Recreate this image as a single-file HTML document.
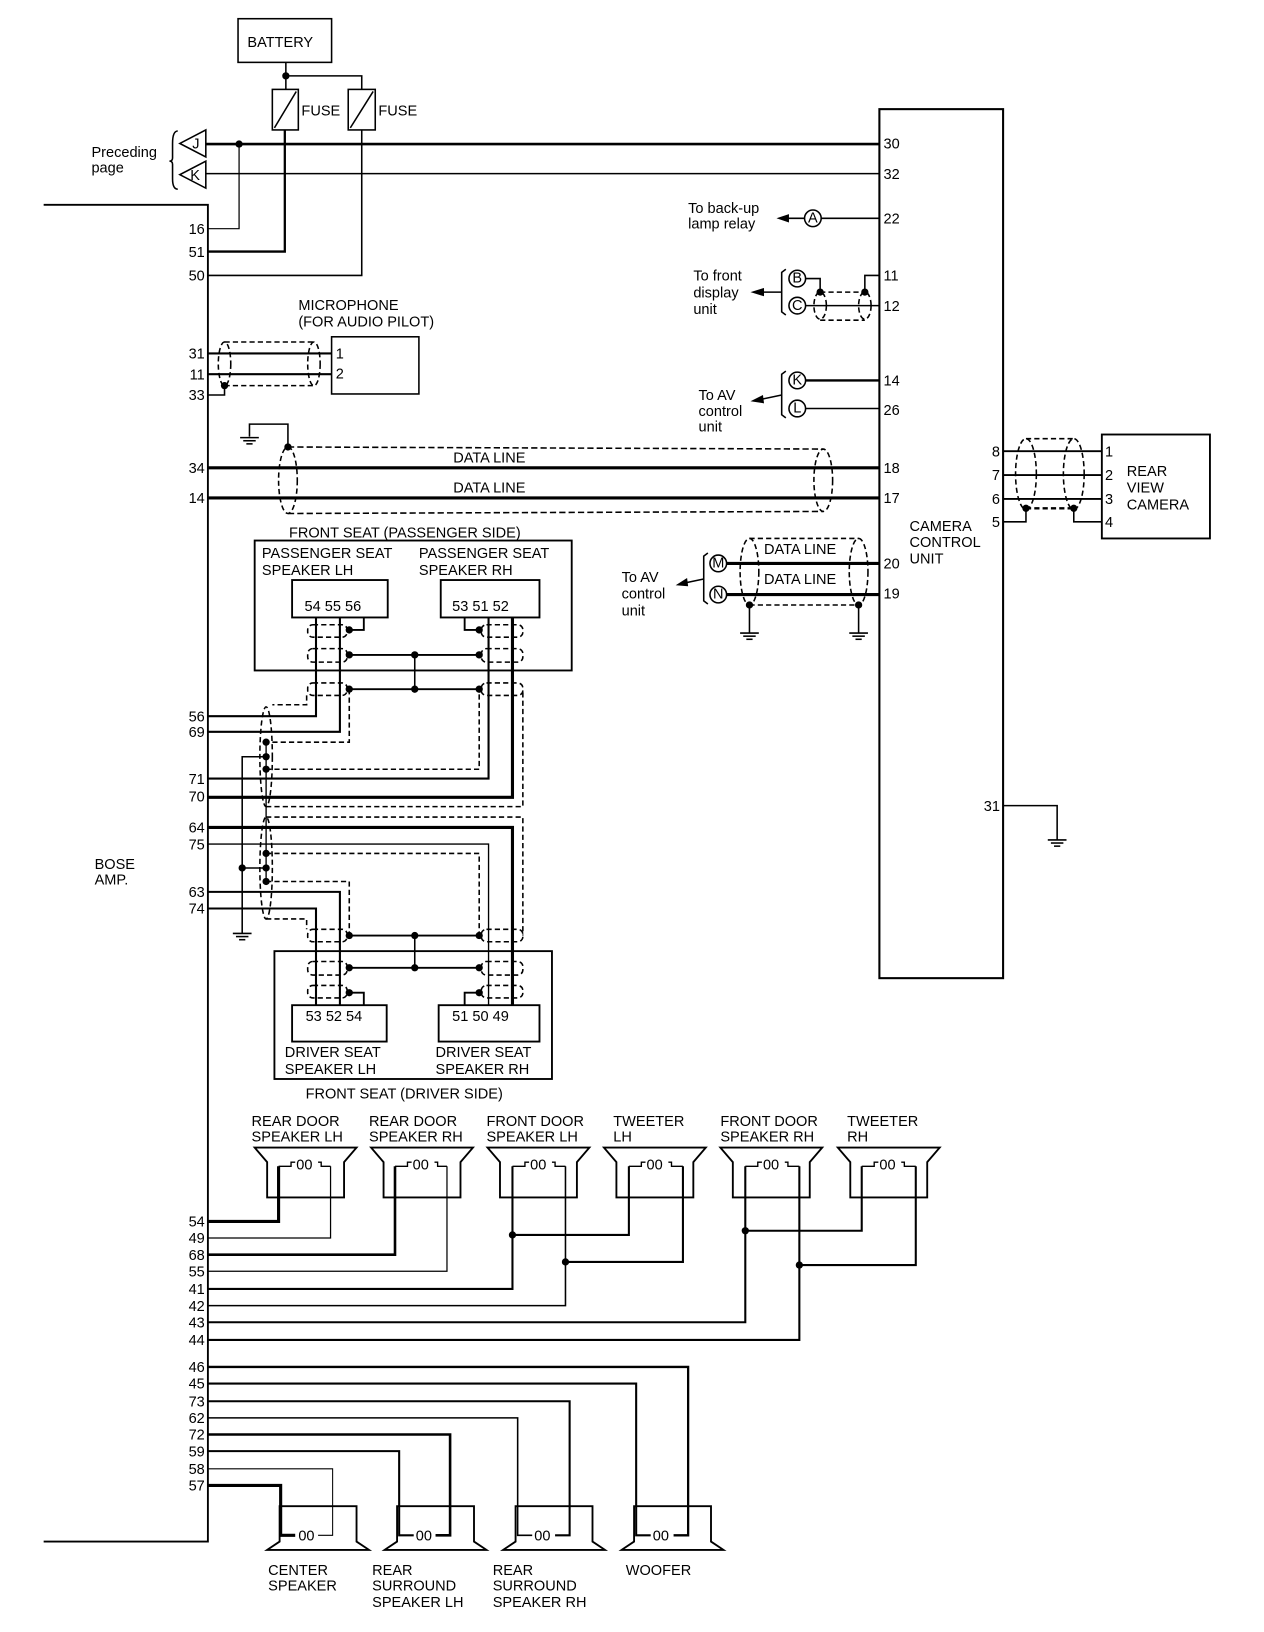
<!DOCTYPE html>
<html><head><meta charset="utf-8"><style>
html,body{margin:0;padding:0;background:#fff;}
svg{display:block;}
text{font-family:"Liberation Sans",sans-serif;font-size:14px;fill:#000;}
</style></head><body>
<svg width="1264" height="1632" viewBox="0 0 1216 1570" preserveAspectRatio="none" xmlns="http://www.w3.org/2000/svg">
<g fill="none" stroke="#000" stroke-width="1.5">
<rect x="229" y="18" width="90" height="42"/>
<line x1="275" y1="60" x2="275" y2="86"/>
<polyline points="275,73 348,73 348,86"/>
<rect x="262" y="86" width="25" height="39"/>
<line x1="264" y1="123" x2="285" y2="88"/>
<rect x="335" y="86" width="26" height="39"/>
<line x1="337" y1="123" x2="359" y2="88"/>
<polyline points="274,125 274,242 200,242" stroke-width="2.2"/>
<polyline points="348,125 348,265 200,265"/>
<line x1="198" y1="138.6" x2="846" y2="138.6" stroke-width="2.5"/>
<line x1="198" y1="167" x2="846" y2="167"/>
<polyline points="230,138.6 230,220 200,220" stroke-width="1.2"/>
<polygon points="198,125 198,151 173,138"/>
<polygon points="198,155 198,181 173,168"/>
<path d="M171,126 Q166,126 166,138 L166,152 Q166,155 163,155 Q166,155 166,158 L166,172 Q166,182 171,182"/>
<polyline points="42,197 200,197 200,1483 42,1483" stroke-width="1.8"/>
<rect x="846" y="105" width="119" height="836" stroke-width="2"/>
<circle cx="782" cy="210" r="8"/>
<line x1="790" y1="210" x2="846" y2="210"/>
<line x1="774" y1="210" x2="756" y2="210"/>
<circle cx="767" cy="268" r="8"/>
<circle cx="767" cy="294" r="8"/>
<polyline points="775,268 789,268 789,281"/>
<line x1="775" y1="294" x2="846" y2="294"/>
<polyline points="846,265 832,265 832,281"/>
<line x1="789" y1="281" x2="832" y2="281" stroke-dasharray="5,3"/>
<line x1="789" y1="308" x2="832" y2="308" stroke-dasharray="5,3"/>
<ellipse cx="789" cy="294" rx="6" ry="13" stroke-dasharray="5,3"/>
<ellipse cx="832" cy="294" rx="6" ry="13" stroke-dasharray="5,3"/>
<path d="M756,259 L752,262 L752,300 L756,303"/>
<line x1="752" y1="281" x2="734" y2="281"/>
<circle cx="767" cy="366" r="8"/>
<circle cx="767" cy="393" r="8"/>
<line x1="775" y1="366" x2="846" y2="366" stroke-width="2.2"/>
<line x1="775" y1="393" x2="846" y2="393"/>
<path d="M756,357 L752,360 L752,399 L756,402"/>
<line x1="752" y1="380" x2="733" y2="384"/>
<polyline points="277,430 277,408 240,408 240,420"/>
<line x1="231" y1="421" x2="249" y2="421"/><line x1="234" y1="424" x2="246" y2="424"/><line x1="237" y1="427" x2="243" y2="427"/>
<line x1="200" y1="450" x2="846" y2="450" stroke-width="3"/>
<line x1="200" y1="479" x2="846" y2="479" stroke-width="3"/>
<ellipse cx="277" cy="462" rx="9" ry="32" stroke-dasharray="5,3"/>
<ellipse cx="792" cy="462" rx="9" ry="30" stroke-dasharray="5,3"/>
<line x1="277" y1="430" x2="792" y2="432" stroke-dasharray="6,3"/>
<line x1="277" y1="494" x2="792" y2="492" stroke-dasharray="6,3"/>
<rect x="319" y="324" width="84" height="55"/>
<line x1="200" y1="340" x2="319" y2="340" stroke-width="2"/>
<line x1="200" y1="360" x2="319" y2="360" stroke-width="2"/>
<ellipse cx="216" cy="350" rx="6" ry="21" stroke-dasharray="5,3"/>
<ellipse cx="302" cy="350" rx="6" ry="21" stroke-dasharray="5,3"/>
<line x1="216" y1="329" x2="302" y2="329" stroke-dasharray="5,3"/>
<line x1="216" y1="371" x2="302" y2="371" stroke-dasharray="5,3"/>
<polyline points="200,380 216,380 216,371"/>
<rect x="1060" y="418" width="104" height="100" stroke-width="1.8"/>
<line x1="965" y1="434" x2="1060" y2="434" stroke-width="1.8"/>
<line x1="965" y1="457" x2="1060" y2="457" stroke-width="1.8"/>
<line x1="965" y1="480" x2="1060" y2="480" stroke-width="1.8"/>
<polyline points="965,502 987,502 987,489"/>
<polyline points="1060,502 1033,502 1033,489"/>
<ellipse cx="987" cy="456" rx="10" ry="34" stroke-dasharray="5,3"/>
<ellipse cx="1033" cy="456" rx="10" ry="34" stroke-dasharray="5,3"/>
<line x1="987" y1="422" x2="1033" y2="422" stroke-dasharray="5,3"/>
<line x1="987" y1="489" x2="1033" y2="489" stroke-dasharray="5,3" stroke-width="2.2"/>
<circle cx="691" cy="542" r="8"/>
<circle cx="691" cy="572" r="8"/>
<line x1="699" y1="542" x2="846" y2="542" stroke-width="3"/>
<line x1="699" y1="572" x2="846" y2="572" stroke-width="3"/>
<path d="M681,532 L677,535 L677,578 L681,581"/>
<line x1="677" y1="557" x2="658" y2="561"/>
<ellipse cx="721" cy="550" rx="9" ry="32" stroke-dasharray="5,3"/>
<ellipse cx="826" cy="550" rx="9" ry="32" stroke-dasharray="5,3"/>
<line x1="721" y1="518" x2="826" y2="518" stroke-dasharray="5,3"/>
<line x1="721" y1="582" x2="826" y2="582" stroke-dasharray="5,3"/>
<line x1="721" y1="582" x2="721" y2="609"/><line x1="826" y1="582" x2="826" y2="609"/>
<line x1="712" y1="609" x2="730" y2="609"/><line x1="715" y1="612" x2="727" y2="612"/><line x1="718" y1="615" x2="724" y2="615"/>
<line x1="817" y1="609" x2="835" y2="609"/><line x1="820" y1="612" x2="832" y2="612"/><line x1="823" y1="615" x2="829" y2="615"/>
<polyline points="965,775 1017,775 1017,808"/>
<line x1="1008" y1="808" x2="1026" y2="808"/><line x1="1011" y1="811" x2="1023" y2="811"/><line x1="1014" y1="814" x2="1020" y2="814"/>

<rect x="245" y="520" width="305" height="125" stroke-width="1.8"/>
<rect x="281" y="558" width="92" height="36" stroke-width="1.8"/>
<rect x="424" y="558" width="95" height="36" stroke-width="1.8"/>
<polyline points="304,594 304,689 200,689" stroke-width="2"/>
<polyline points="327,594 327,704 200,704" stroke-width="2"/>
<polyline points="350,594 350,606 336,606" stroke-width="1.8"/>
<polyline points="447,594 447,606 461,606" stroke-width="1.8"/>
<polyline points="470,594 470,749 200,749" stroke-width="2"/>
<polyline points="493,594 493,767 200,767" stroke-width="3"/>
<line x1="336" y1="630" x2="461" y2="630" stroke-width="1.8"/>
<line x1="336" y1="663" x2="461" y2="663" stroke-width="1.8"/>
<line x1="399" y1="630" x2="399" y2="663"/>
<g stroke-dasharray="5,3">
<rect x="296" y="601" width="38" height="12" rx="5"/>
<rect x="296" y="624" width="38" height="13" rx="5"/>
<rect x="296" y="657" width="38" height="12" rx="5"/>
<rect x="463" y="601" width="40" height="12" rx="5"/>
<rect x="463" y="624" width="40" height="13" rx="5"/>
<rect x="463" y="657" width="40" height="12" rx="5"/>
<polyline points="336,663 336,714 256,714"/>
<polyline points="295,669 295,678 262,678"/>
<ellipse cx="256" cy="728" rx="6" ry="48"/>
<polyline points="256,740 461,740 461,663"/>
<polyline points="256,776 503,776 503,663"/>
<polyline points="256,786 503,786 503,900"/>
<ellipse cx="256" cy="835" rx="6" ry="49"/>
<polyline points="256,821 461,821 461,900"/>
<polyline points="256,848 336,848 336,900"/>
<polyline points="256,884 295,884 295,894"/>
<rect x="296" y="894" width="38" height="12" rx="5"/>
<rect x="296" y="925" width="38" height="13" rx="5"/>
<rect x="296" y="948" width="38" height="12" rx="5"/>
<rect x="463" y="894" width="40" height="12" rx="5"/>
<rect x="463" y="925" width="40" height="13" rx="5"/>
<rect x="463" y="948" width="40" height="12" rx="5"/>
</g>
<polyline points="256,728 233,728 233,898"/>
<line x1="233" y1="835" x2="256" y2="835"/>
<line x1="224" y1="898" x2="242" y2="898"/><line x1="227" y1="901" x2="239" y2="901"/><line x1="230" y1="904" x2="236" y2="904"/>
<line x1="256" y1="714" x2="256" y2="848" stroke-width="1.3"/>
<rect x="264" y="915" width="267" height="123" stroke-width="1.8"/>
<rect x="281" y="967" width="91" height="35" stroke-width="1.8"/>
<rect x="422" y="967" width="97" height="35" stroke-width="1.8"/>
<polyline points="200,796 493,796 493,967" stroke-width="3"/>
<polyline points="200,812 470,812 470,967" stroke-width="1.3"/>
<polyline points="200,858 327,858 327,967" stroke-width="2"/>
<polyline points="200,874 304,874 304,967" stroke-width="2"/>
<line x1="336" y1="900" x2="461" y2="900" stroke-width="1.8"/>
<line x1="336" y1="931" x2="461" y2="931" stroke-width="1.8"/>
<line x1="399" y1="900" x2="399" y2="931"/>
<polyline points="350,967 350,955 336,955" stroke-width="1.8"/>
<polyline points="447,967 447,955 461,955" stroke-width="1.8"/>

<path d="M245,1104 L343,1104 L331,1118 L331,1152 L257,1152 L257,1118 Z" stroke-width="1.8"/>
<path d="M357,1104 L455,1104 L443,1118 L443,1152 L369,1152 L369,1118 Z" stroke-width="1.8"/>
<path d="M469,1104 L567,1104 L555,1118 L555,1152 L481,1152 L481,1118 Z" stroke-width="1.8"/>
<path d="M581,1104 L679,1104 L667,1118 L667,1152 L593,1152 L593,1118 Z" stroke-width="1.8"/>
<path d="M693,1104 L791,1104 L779,1118 L779,1152 L705,1152 L705,1118 Z" stroke-width="1.8"/>
<path d="M806,1104 L904,1104 L892,1118 L892,1152 L818,1152 L818,1118 Z" stroke-width="1.8"/>
<g stroke-width="1.3">
<path d="M268,1122 L280,1122 L280,1118 L284,1118 M306,1118 L309,1118 L309,1122 L318,1122"/>
<path d="M380,1122 L392,1122 L392,1118 L396,1118 M418,1118 L421,1118 L421,1122 L430,1122"/>
<path d="M493,1122 L505,1122 L505,1118 L509,1118 M531,1118 L534,1118 L534,1122 L544,1122"/>
<path d="M605,1122 L617,1122 L617,1118 L621,1118 M643,1118 L646,1118 L646,1122 L657,1122"/>
<path d="M717,1122 L729,1122 L729,1118 L733,1118 M755,1118 L758,1118 L758,1122 L769,1122"/>
<path d="M829,1122 L841,1122 L841,1118 L845,1118 M867,1118 L870,1118 L870,1122 L881,1122"/>
</g>
<polyline points="200,1175 268,1175 268,1122" stroke-width="3"/>
<polyline points="200,1191 318,1191 318,1122" stroke-width="1.2"/>
<polyline points="200,1207 380,1207 380,1122" stroke-width="2.5"/>
<polyline points="200,1223 430,1223 430,1122" stroke-width="1.2"/>
<polyline points="200,1240 493,1240 493,1122" stroke-width="2"/>
<polyline points="493,1188 605,1188 605,1122" stroke-width="2"/>
<polyline points="200,1256 544,1256 544,1122" stroke-width="1.5"/>
<polyline points="544,1214 657,1214 657,1122" stroke-width="2"/>
<polyline points="200,1272 717,1272 717,1122" stroke-width="2"/>
<polyline points="717,1184 829,1184 829,1122" stroke-width="2"/>
<polyline points="200,1289 769,1289 769,1122" stroke-width="2"/>
<polyline points="769,1217 881,1217 881,1122" stroke-width="2"/>
<path d="M257,1491 L355,1491 L343,1483 L343,1449 L269,1449 L269,1483 Z" stroke-width="1.8"/>
<path d="M370,1491 L468,1491 L456,1483 L456,1449 L382,1449 L382,1483 Z" stroke-width="1.8"/>
<path d="M484,1491 L582,1491 L570,1483 L570,1449 L496,1449 L496,1483 Z" stroke-width="1.8"/>
<path d="M598,1491 L696,1491 L684,1483 L684,1449 L610,1449 L610,1483 Z" stroke-width="1.8"/>
<polyline points="200,1315 662,1315 662,1477 648,1477" stroke-width="2.2"/>
<polyline points="200,1331 612,1331 612,1477 626,1477" stroke-width="2"/>
<polyline points="200,1348 548,1348 548,1477 534,1477" stroke-width="2"/>
<polyline points="200,1364 498,1364 498,1477 512,1477" stroke-width="1.5"/>
<polyline points="200,1380 433,1380 433,1477 419,1477" stroke-width="2.5"/>
<polyline points="200,1396 384,1396 384,1477 398,1477" stroke-width="2"/>
<polyline points="200,1413 320,1413 320,1477 306,1477" stroke-width="1"/>
<polyline points="200,1429 270,1429 270,1477 284,1477" stroke-width="3"/>
</g>
<g fill="#000">
<circle cx="275" cy="73" r="3.5"/><circle cx="230" cy="138.6" r="3.5"/>
<circle cx="789" cy="281" r="3.5"/><circle cx="832" cy="281" r="3.5"/>
<circle cx="277" cy="430" r="3.5"/><circle cx="216" cy="371" r="3.5"/>
<circle cx="987" cy="489" r="3.5"/><circle cx="1033" cy="489" r="3.5"/>
<circle cx="721" cy="582" r="3.5"/><circle cx="826" cy="582" r="3.5"/>
<circle cx="336" cy="606" r="3.5"/><circle cx="461" cy="606" r="3.5"/>
<circle cx="336" cy="630" r="3.5"/><circle cx="399" cy="630" r="3.5"/><circle cx="461" cy="630" r="3.5"/>
<circle cx="336" cy="663" r="3.5"/><circle cx="399" cy="663" r="3.5"/><circle cx="461" cy="663" r="3.5"/>
<circle cx="256" cy="714" r="3.5"/><circle cx="256" cy="728" r="3.5"/><circle cx="256" cy="740" r="3.5"/>
<circle cx="256" cy="821" r="3.5"/><circle cx="256" cy="835" r="3.5"/><circle cx="233" cy="835" r="3.5"/><circle cx="256" cy="848" r="3.5"/>
<circle cx="336" cy="900" r="3.5"/><circle cx="399" cy="900" r="3.5"/><circle cx="461" cy="900" r="3.5"/>
<circle cx="336" cy="931" r="3.5"/><circle cx="399" cy="931" r="3.5"/><circle cx="461" cy="931" r="3.5"/>
<circle cx="336" cy="955" r="3.5"/><circle cx="461" cy="955" r="3.5"/>
<circle cx="493" cy="1188" r="3.5"/><circle cx="544" cy="1214" r="3.5"/><circle cx="717" cy="1184" r="3.5"/><circle cx="769" cy="1217" r="3.5"/>
<polygon points="747,210 759,206 759,214"/>
<polygon points="722,281 735,277 735,285"/>
<polygon points="722,386 734,380 735,388"/>
<polygon points="650,563 661,556 662,564"/>
</g>
<g>
<text x="238" y="45" font-size="13">BATTERY</text>
<text x="290" y="111">FUSE</text><text x="364" y="111">FUSE</text>
<text x="88" y="151">Preceding</text><text x="88" y="166">page</text>
<text x="185" y="143" font-size="12">J</text><text x="183" y="173" font-size="12">K</text>
<g text-anchor="end">
<text x="197" y="225">16</text><text x="197" y="247">51</text><text x="197" y="270">50</text>
<text x="197" y="345">31</text><text x="197" y="365">11</text><text x="197" y="385">33</text>
<text x="197" y="455">34</text><text x="197" y="484">14</text>
<text x="197" y="694">56</text><text x="197" y="709">69</text><text x="197" y="754">71</text><text x="197" y="771">70</text>
<text x="197" y="801">64</text><text x="197" y="817">75</text><text x="197" y="863">63</text><text x="197" y="879">74</text>
<text x="197" y="1180">54</text><text x="197" y="1196">49</text><text x="197" y="1212">68</text><text x="197" y="1228">55</text>
<text x="197" y="1245">41</text><text x="197" y="1261">42</text><text x="197" y="1277">43</text><text x="197" y="1294">44</text>
<text x="197" y="1320">46</text><text x="197" y="1336">45</text><text x="197" y="1353">73</text><text x="197" y="1369">62</text>
<text x="197" y="1385">72</text><text x="197" y="1401">59</text><text x="197" y="1418">58</text><text x="197" y="1434">57</text>
<text x="962" y="439">8</text><text x="962" y="462">7</text><text x="962" y="485">6</text><text x="962" y="507">5</text>
<text x="962" y="780">31</text>
</g>
<text x="850" y="143">30</text><text x="850" y="172">32</text><text x="850" y="215">22</text>
<text x="850" y="270">11</text><text x="850" y="299">12</text><text x="850" y="371">14</text><text x="850" y="399">26</text>
<text x="850" y="455">18</text><text x="850" y="484">17</text><text x="850" y="547">20</text><text x="850" y="576">19</text>
<text x="875" y="511">CAMERA</text><text x="875" y="526">CONTROL</text><text x="875" y="542">UNIT</text>
<text x="1063" y="439">1</text><text x="1063" y="462">2</text><text x="1063" y="485">3</text><text x="1063" y="507">4</text>
<text x="1084" y="458">REAR</text><text x="1084" y="474">VIEW</text><text x="1084" y="490">CAMERA</text>
<text x="662" y="205">To back-up</text><text x="662" y="220">lamp relay</text>
<text x="667" y="270">To front</text><text x="667" y="286">display</text><text x="667" y="302">unit</text>
<text x="672" y="385">To AV</text><text x="672" y="400">control</text><text x="672" y="415">unit</text>
<text x="598" y="560">To AV</text><text x="598" y="576">control</text><text x="598" y="592">unit</text>
<g font-size="12" text-anchor="middle">
<text x="782" y="214">A</text><text x="767" y="272">B</text><text x="767" y="298">C</text>
<text x="767" y="370">K</text><text x="767" y="397">L</text><text x="691" y="546">M</text><text x="691" y="576">N</text>
</g>
<text x="436" y="445">DATA LINE</text><text x="436" y="474">DATA LINE</text>
<text x="735" y="533">DATA LINE</text><text x="735" y="562">DATA LINE</text>
<text x="287" y="298">MICROPHONE</text><text x="287" y="314">(FOR AUDIO PILOT)</text>
<text x="323" y="345" font-size="13">1</text><text x="323" y="364" font-size="13">2</text>
<text x="278" y="517">FRONT SEAT (PASSENGER SIDE)</text>
<text x="252" y="537">PASSENGER SEAT</text><text x="252" y="553">SPEAKER LH</text>
<text x="403" y="537">PASSENGER SEAT</text><text x="403" y="553">SPEAKER RH</text>
<text x="293" y="588">54 55 56</text><text x="435" y="588">53 51 52</text>
<text x="294" y="982">53 52 54</text><text x="435" y="982">51 50 49</text>
<text x="274" y="1017">DRIVER SEAT</text><text x="274" y="1033">SPEAKER LH</text>
<text x="419" y="1017">DRIVER SEAT</text><text x="419" y="1033">SPEAKER RH</text>
<text x="294" y="1057">FRONT SEAT (DRIVER SIDE)</text>
<text x="91" y="836">BOSE</text><text x="91" y="851">AMP.</text>
<text x="242" y="1083">REAR DOOR</text><text x="242" y="1098">SPEAKER LH</text>
<text x="355" y="1083">REAR DOOR</text><text x="355" y="1098">SPEAKER RH</text>
<text x="468" y="1083">FRONT DOOR</text><text x="468" y="1098">SPEAKER LH</text>
<text x="590" y="1083">TWEETER</text><text x="590" y="1098">LH</text>
<text x="693" y="1083">FRONT DOOR</text><text x="693" y="1098">SPEAKER RH</text>
<text x="815" y="1083">TWEETER</text><text x="815" y="1098">RH</text>
<g font-size="12">
<text x="285" y="1125">00</text><text x="397" y="1125">00</text><text x="510" y="1125">00</text>
<text x="622" y="1125">00</text><text x="734" y="1125">00</text><text x="846" y="1125">00</text>
<text x="287" y="1482">00</text><text x="400" y="1482">00</text><text x="514" y="1482">00</text><text x="628" y="1482">00</text>
</g>
<text x="258" y="1515">CENTER</text><text x="258" y="1530">SPEAKER</text>
<text x="358" y="1515">REAR</text><text x="358" y="1530">SURROUND</text><text x="358" y="1546">SPEAKER LH</text>
<text x="474" y="1515">REAR</text><text x="474" y="1530">SURROUND</text><text x="474" y="1546">SPEAKER RH</text>
<text x="602" y="1515">WOOFER</text>
</g>
</svg>
</body></html>
